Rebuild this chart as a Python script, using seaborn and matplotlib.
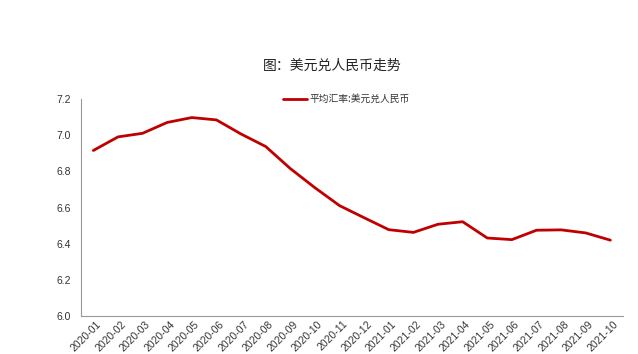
import matplotlib
matplotlib.use("Agg")
import matplotlib.pyplot as plt
import seaborn as sns
import numpy as np
import pandas as pd
from matplotlib.ticker import FixedLocator, NullFormatter, FixedFormatter

months = ["2020-01", "2020-02", "2020-03", "2020-04", "2020-05", "2020-06",
          "2020-07", "2020-08", "2020-09", "2020-10", "2020-11", "2020-12",
          "2021-01", "2021-02", "2021-03", "2021-04", "2021-05", "2021-06",
          "2021-07", "2021-08", "2021-09", "2021-10"]
rates = [6.916, 6.991, 7.011, 7.071, 7.098, 7.085, 7.007, 6.938, 6.816, 6.710,
         6.611, 6.544, 6.478, 6.463, 6.508, 6.522, 6.432, 6.423, 6.475, 6.477,
         6.460, 6.420]
series_name = "平均汇率:美元兑人民币"
title = "图：美元兑人民币走势"
yticks = [6.0, 6.2, 6.4, 6.6, 6.8, 7.0, 7.2]

sns.set_style("white")
plt.rcParams["font.family"] = ["Noto Sans CJK SC", "DejaVu Sans"]

df = pd.DataFrame({"pos": np.arange(len(months)), "rate": rates, "series": series_name})

fig = plt.figure(figsize=(6.38, 3.54), dpi=100)
ax = fig.add_axes([0.127, 0.107, 0.849, 0.613])
sns.lineplot(data=df, x="pos", y="rate", hue="series", palette=["#C00000"],
             linewidth=2, ax=ax)

ax.set_xlim(-0.5, len(months) - 0.5)
ax.set_ylim(6.0, 7.2)
ax.set_yticks(yticks)
ax.set_yticklabels([f"{v:.1f}" for v in yticks], fontsize=7.5, color="#333333",
                   family=["Liberation Sans", "DejaVu Sans"])
ax.xaxis.set_major_locator(FixedLocator(np.arange(-0.5, len(months), 1.0)))
ax.xaxis.set_major_formatter(NullFormatter())
ax.xaxis.set_minor_locator(FixedLocator(np.arange(len(months)) + 0.1))
ax.xaxis.set_minor_formatter(FixedFormatter(months))
ax.tick_params(axis="x", which="major", length=4, color="#999999", direction="out")
ax.tick_params(axis="x", which="minor", length=0, pad=2)
ax.tick_params(axis="y", length=4, color="#999999", direction="out", pad=3)
for lab in ax.get_xticklabels(minor=True):
    lab.set_rotation(45)
    lab.set_ha("right")
    lab.set_va("top")
    lab.set_rotation_mode("anchor")
    lab.set_fontsize(7.5)
    lab.set_color("#333333")
    lab.set_family(["Liberation Sans", "DejaVu Sans"])

for s in ["top", "right"]:
    ax.spines[s].set_visible(False)
for s in ["left", "bottom"]:
    ax.spines[s].set_color("#999999")
    ax.spines[s].set_linewidth(0.8)
ax.set_xlabel("")
ax.set_ylabel("")

leg = ax.legend(loc="center", bbox_to_anchor=(0.49, 1.0), frameon=False,
                fontsize=7, handlelength=2.5, handletextpad=0.3)
for t in leg.get_texts():
    t.set_color("#333333")

fig.text(0.521, 0.813, title, ha="center", va="center", fontsize=10, color="#222222")

fig.savefig("out.png", dpi=100, facecolor="white")
